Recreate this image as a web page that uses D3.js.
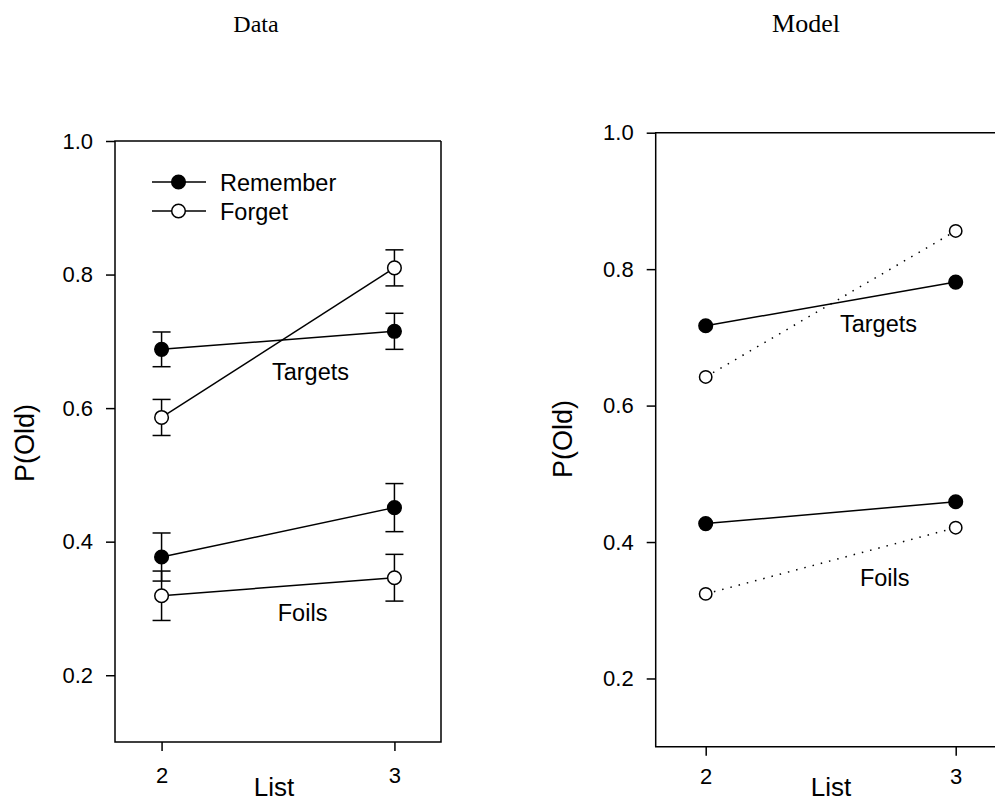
<!DOCTYPE html>
<html>
<head>
<meta charset="utf-8">
<script src="https://cdn.jsdelivr.net/npm/d3@7"></script>
<style>
  body { margin: 0; background: #fff; }
  text { font-family: "Liberation Sans", Arial, sans-serif; fill: #000; }
  .title { font-family: "Liberation Serif", "Times New Roman", serif; }
</style>
</head>
<body>
<div id="chart"></div>
<script>
// list numbers on the x axis
const lists = [2, 3];
const yTicks = [0.2, 0.4, 0.6, 0.8, 1.0];

// observed data (left panel), with error bar half-widths
const dataRememberTargets = [0.688, 0.715];
const errRememberTargets = [0.026, 0.027];
const dataForgetTargets = [0.586, 0.810];
const errForgetTargets = [0.027, 0.027];
const dataRememberFoils = [0.377, 0.451];
const errRememberFoils = [0.036, 0.036];
const dataForgetFoils = [0.319, 0.346];
const errForgetFoils = [0.037, 0.035];

// model predictions (right panel)
const modelRememberTargets = [0.717, 0.781];
const modelForgetTargets = [0.642, 0.856];
const modelRememberFoils = [0.427, 0.459];
const modelForgetFoils = [0.324, 0.421];

const legendLabels = ["Remember", "Forget"];

const svg = d3.select("#chart")
    .append("svg")
    .attr("width", 995)
    .attr("height", 802);

function zip(vals, errs) {
    return lists.map(function (l, i) {
        return {x: l, y: vals[i], e: errs ? errs[i] : 0};
    });
}

function drawPanel(p) {
    let x = d3.scaleLinear().domain([1.8, 3.2]).range([p.left, p.right]);
    let y = d3.scaleLinear().domain([0.1, 1.0]).range([p.bottom, p.top]);

    // y axis
    let yAxis = d3.axisLeft(y)
        .tickValues(yTicks)
        .tickSize(9)
        .tickPadding(p.yPad)
        .tickFormat(d3.format(".1f"));
    let gy = svg.append("g")
        .attr("transform", "translate(" + p.left + ",0)")
        .call(yAxis);
    gy.select(".domain").remove();
    gy.selectAll("line").attr("stroke-width", 1.5);
    gy.selectAll("text").style("font-size", "22px").attr("fill", "#000");

    // x axis
    let xAxis = d3.axisBottom(x)
        .tickValues(lists)
        .tickSize(9)
        .tickPadding(p.xPad)
        .tickFormat(d3.format("d"));
    let gx = svg.append("g")
        .attr("transform", "translate(0," + p.bottom + ")")
        .call(xAxis);
    gx.select(".domain").remove();
    gx.selectAll("line").attr("stroke-width", 1.5);
    gx.selectAll("text").style("font-size", "22px").attr("fill", "#000");

    // frame
    let frame = "M" + p.right + "," + p.top + "H" + p.left + "V" + p.bottom + "H" + p.right;
    if (p.closed) frame += "V" + p.top;
    svg.append("path")
        .attr("d", frame)
        .attr("fill", "none")
        .attr("stroke", "#000")
        .attr("stroke-width", 1.5);

    let line = d3.line()
        .x(function (d) { return x(d.x); })
        .y(function (d) { return y(d.y); });

    p.series.forEach(function (s) {
        let pts = zip(s.values, s.errors);
        svg.append("path")
            .datum(pts)
            .attr("d", line)
            .attr("fill", "none")
            .attr("stroke", "#000")
            .attr("stroke-width", 1.5)
            .attr("stroke-dasharray", s.dotted ? "1.5,7" : null);

        if (s.errors) {
            let eb = svg.append("g");
            pts.forEach(function (d) {
                eb.append("line")
                    .attr("x1", x(d.x)).attr("x2", x(d.x))
                    .attr("y1", y(d.y - d.e)).attr("y2", y(d.y + d.e))
                    .attr("stroke", "#000").attr("stroke-width", 1.5);
                [d.y - d.e, d.y + d.e].forEach(function (v) {
                    eb.append("line")
                        .attr("x1", x(d.x) - 9).attr("x2", x(d.x) + 9)
                        .attr("y1", y(v)).attr("y2", y(v))
                        .attr("stroke", "#000").attr("stroke-width", 1.5);
                });
            });
        }

        svg.append("g").selectAll("circle")
            .data(pts)
            .enter().append("circle")
            .attr("cx", function (d) { return x(d.x); })
            .attr("cy", function (d) { return y(d.y); })
            .attr("r", s.filled ? 6.8 : p.openR)
            .attr("fill", s.filled ? "#000" : "#fff")
            .attr("stroke", "#000")
            .attr("stroke-width", 1.5);
    });

    // condition labels
    p.labels.forEach(function (l) {
        svg.append("text")
            .attr("x", x(l.x))
            .attr("y", y(l.y))
            .style("font-size", "23.5px")
            .text(l.text);
    });

    // axis titles
    svg.append("text")
        .attr("x", p.listX)
        .attr("y", 796)
        .attr("text-anchor", "middle")
        .style("font-size", "26px")
        .text("List");
    svg.append("text")
        .attr("transform", "translate(" + p.pX + "," + p.pY + ") rotate(-90)")
        .attr("text-anchor", "middle")
        .style("font-size", "27px")
        .text("P(Old)");

    svg.append("text")
        .attr("class", "title")
        .attr("x", p.titleX)
        .attr("y", 32)
        .attr("text-anchor", "middle")
        .style("font-size", p.titleSize + "px")
        .text(p.title);

    return {x: x, y: y};
}

drawPanel({
    left: 115, right: 441, top: 141, bottom: 742, closed: true,
    yPad: 13, xPad: 16, openR: 6.8,
    listX: 274, pX: 34, pY: 443, titleX: 256, title: "Data", titleSize: 24,
    series: [
        {values: dataRememberTargets, errors: errRememberTargets, filled: true},
        {values: dataForgetTargets, errors: errForgetTargets, filled: false},
        {values: dataRememberFoils, errors: errRememberFoils, filled: true},
        {values: dataForgetFoils, errors: errForgetFoils, filled: false}
    ],
    labels: [
        {text: "Targets", x: 2.474, y: 0.642},
        {text: "Foils", x: 2.499, y: 0.281}
    ]
});

drawPanel({
    left: 655.7, right: 1005.7, top: 132.7, bottom: 746.7, closed: false,
    yPad: 13, xPad: 13, openR: 6.2,
    listX: 831, pX: 572, pY: 439, titleX: 806, title: "Model", titleSize: 26,
    series: [
        {values: modelRememberTargets, filled: true},
        {values: modelForgetTargets, filled: false, dotted: true},
        {values: modelRememberFoils, filled: true},
        {values: modelForgetFoils, filled: false, dotted: true}
    ],
    labels: [
        {text: "Targets", x: 2.537, y: 0.708},
        {text: "Foils", x: 2.617, y: 0.335}
    ]
});

// legend in the data panel
let legend = svg.append("g").attr("transform", "translate(152,182)");
legendLabels.forEach(function (lab, i) {
    let g = legend.append("g").attr("transform", "translate(0," + (i * 29) + ")");
    g.append("line")
        .attr("x1", 0).attr("x2", 54)
        .attr("stroke", "#000").attr("stroke-width", 1.5);
    g.append("circle")
        .attr("cx", 26.5).attr("r", 6.8)
        .attr("fill", i === 0 ? "#000" : "#fff")
        .attr("stroke", "#000").attr("stroke-width", 1.5);
    g.append("text")
        .attr("x", 68).attr("y", 8.5)
        .style("font-size", "23.5px")
        .text(lab);
});
</script>
</body>
</html>
